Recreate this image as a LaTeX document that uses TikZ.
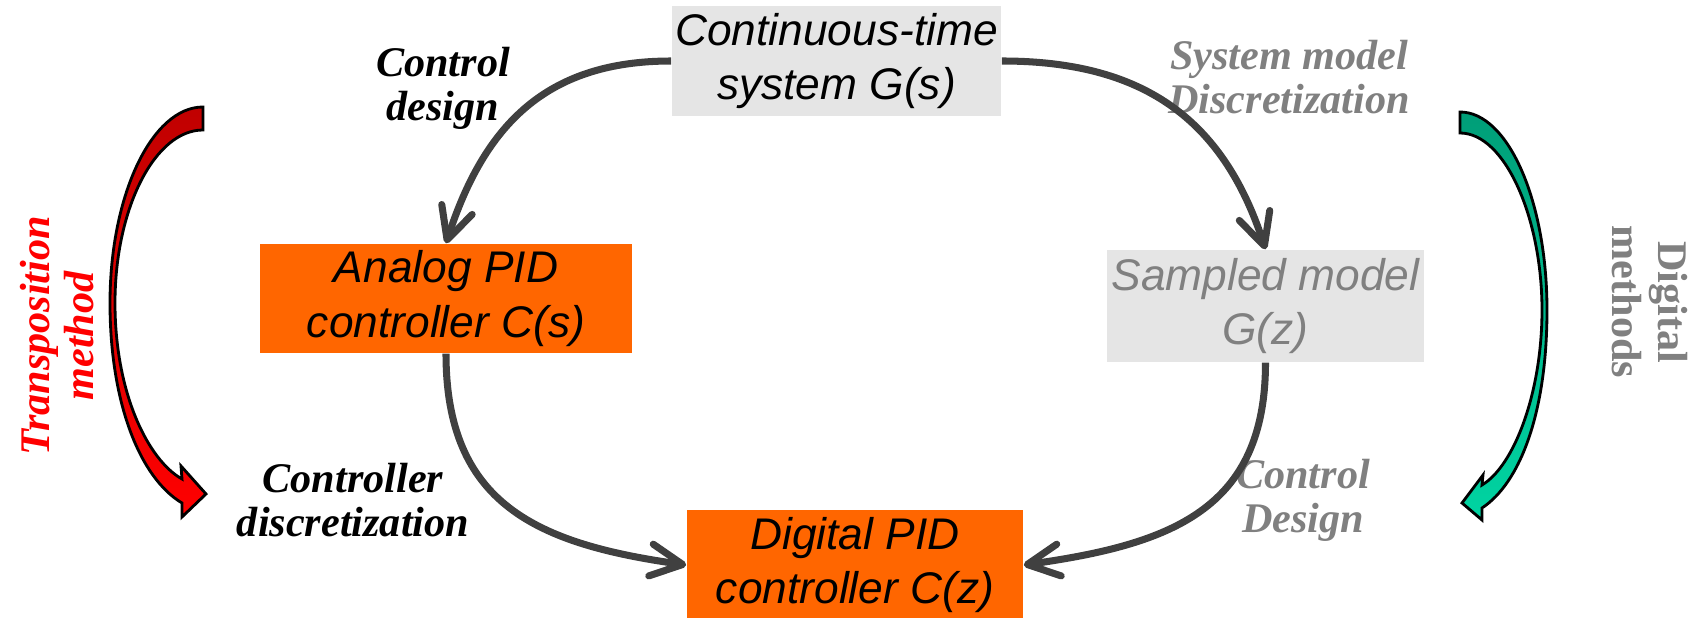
\documentclass[tikz,border=0pt]{standalone}
\usepackage{fontspec}
\setmainfont{Liberation Serif}
\setsansfont{Liberation Sans}
\usetikzlibrary{arrows.meta}
\definecolor{boxgrey}{HTML}{E5E5E5}
\definecolor{pidorange}{HTML}{FF6600}
\definecolor{flowgrey}{HTML}{404040}
\definecolor{txtgrey}{HTML}{808080}
\definecolor{redtop}{HTML}{C00000}
\definecolor{redbot}{HTML}{FF0000}
\definecolor{greentop}{HTML}{009E78}
\definecolor{greenbot}{HTML}{00D4A2}
\tikzset{
  box/.style={rectangle, inner sep=0pt, align=center, font=\sffamily\itshape\fontsize{12.6}{15.6}\selectfont},
  greybox/.style={box, fill=boxgrey},
  pidbox/.style={box, fill=pidorange},
  lbl/.style={align=center, font=\bfseries\itshape\fontsize{12}{12.5}\selectfont},
  flow/.style={draw=flowgrey, line width=2pt, -{Straight Barb[length=3.2mm,width=3.2mm,round]}},
  bent/.style={draw=black, line width=.8pt}
}
\begin{document}
\begin{tikzpicture}[x=0.01cm,y=0.01cm]
\useasboundingbox (0,0) rectangle (1699,618);

\node[greybox, minimum width=3.29cm, minimum height=1.1cm] (cts) at (836.5,557) {Continuous-time\\system G(s)};
\node[pidbox, minimum width=3.72cm, minimum height=1.09cm] (analog) at (446,319.5) {Analog PID\\controller C(s)};
\node[greybox, text=txtgrey, minimum width=3.17cm, minimum height=1.12cm] (sampled) at (1265.5,312) {Sampled model\\G(z)};
\node[pidbox, minimum width=3.36cm, minimum height=1.1cm] (digital) at (855,53) {Digital PID\\controller C(z)};

\node[lbl] (ctrldesign) at (443,530) {Control\\design};
\node[lbl, text=txtgrey] (sysdisc) at (1289,541) {System model\\Discretization};
\node[lbl] (ctrldisc) at (353,118) {Controller\\discretization};
\node[lbl, text=txtgrey] (sampdesign) at (1303,118) {Control\\Design};
\node[lbl, text=red, rotate=90] (transp) at (57,282) {Transposition\\method};
\node[align=center, text=txtgrey, rotate=-90, font=\bfseries\fontsize{12}{13}\selectfont] (digmeth) at (1650,316) {Digital\\methods};

\draw[flow] (cts.west) to[out=180,in=72,looseness=1.1] (analog.north);
\draw[flow] (cts.east) to[out=0,in=108,looseness=1.1] (sampled.north);
\draw[flow] (analog.south) to[out=-90,in=172,looseness=1.2] (digital.west);
\draw[flow] (sampled.south) to[out=-90,in=8,looseness=1.2] (digital.east);

\shadedraw[bent, top color=redtop, bottom color=redbot]
  (203,511) .. controls (152,511) and (110,423) .. (110,315)
  .. controls (110,215) and (140,140) .. (182,115)
  -- (182,101) -- (206,124) -- (181,152) -- (182,139)
  .. controls (148,158) and (115,225) .. (115,315)
  .. controls (115,410) and (155,488) .. (203,488) -- cycle;
\shadedraw[bent, top color=greentop, bottom color=greenbot]
  (1460,506) .. controls (1508,506) and (1547,417) .. (1547,308)
  .. controls (1547,205) and (1520,135) .. (1482,110)
  -- (1482,98) -- (1462,115) -- (1483,143) -- (1482,133)
  .. controls (1514,152) and (1542,225) .. (1542,308)
  .. controls (1542,400) and (1505,485) .. (1460,485) -- cycle;
\end{tikzpicture}
\end{document}
